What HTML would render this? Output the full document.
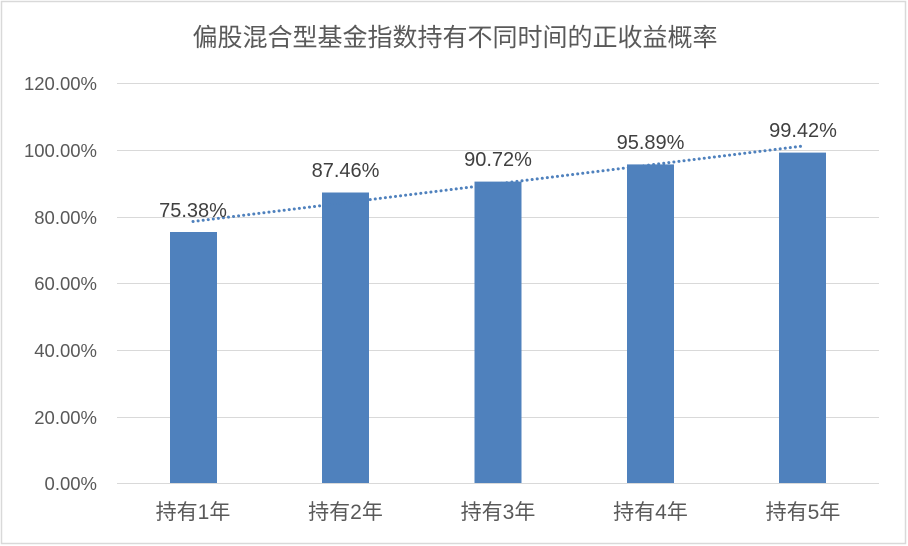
<!DOCTYPE html>
<html><head><meta charset="utf-8"><style>
html,body{margin:0;padding:0;background:#fff;}
svg{display:block;}
text{font-family:"Liberation Sans","Noto Sans CJK SC",sans-serif;}
</style></head><body>
<svg width="908" height="546" xmlns="http://www.w3.org/2000/svg">
<rect x="1.5" y="1.5" width="904" height="542" fill="#fff" stroke="#d9d9d9" stroke-width="1.5"/>
<text x="455" y="46" text-anchor="middle" font-size="25" fill="#595959">偏股混合型基金指数持有不同时间的正收益概率</text>
<g stroke="#d9d9d9" stroke-width="1">
<line x1="117" x2="879" y1="83.5" y2="83.5"/>
<line x1="117" x2="879" y1="150.5" y2="150.5"/>
<line x1="117" x2="879" y1="217.5" y2="217.5"/>
<line x1="117" x2="879" y1="283.5" y2="283.5"/>
<line x1="117" x2="879" y1="350.5" y2="350.5"/>
<line x1="117" x2="879" y1="417.5" y2="417.5"/>
<line x1="117" x2="879" y1="483.5" y2="483.5"/>
</g>
<g font-size="18.5" fill="#595959" text-anchor="end">
<text x="97" y="90">120.00%</text>
<text x="97" y="157">100.00%</text>
<text x="97" y="224">80.00%</text>
<text x="97" y="290">60.00%</text>
<text x="97" y="357">40.00%</text>
<text x="97" y="424">20.00%</text>
<text x="97" y="490">0.00%</text>
</g>
<g fill="#4f81bd">
<rect x="170" y="232" width="47" height="251"/>
<rect x="322" y="192.5" width="47" height="290.5"/>
<rect x="474.5" y="181.6" width="47" height="301.4"/>
<rect x="627" y="164.4" width="47" height="318.6"/>
<rect x="779" y="152.6" width="47" height="330.4"/>
</g>
<line x1="193" y1="221.5" x2="803" y2="146" stroke="#4f81bd" stroke-width="3" stroke-dasharray="0.1 5" stroke-linecap="round"/>
<g font-size="20" fill="#404040" text-anchor="middle">
<text x="193" y="217">75.38%</text>
<text x="345.5" y="177">87.46%</text>
<text x="498" y="166">90.72%</text>
<text x="650.5" y="149">95.89%</text>
<text x="803" y="137">99.42%</text>
</g>
<g font-size="21" fill="#595959" text-anchor="middle">
<text x="193" y="519">持有1年</text>
<text x="345.5" y="519">持有2年</text>
<text x="498" y="519">持有3年</text>
<text x="650.5" y="519">持有4年</text>
<text x="803" y="519">持有5年</text>
</g>
</svg>
</body></html>
